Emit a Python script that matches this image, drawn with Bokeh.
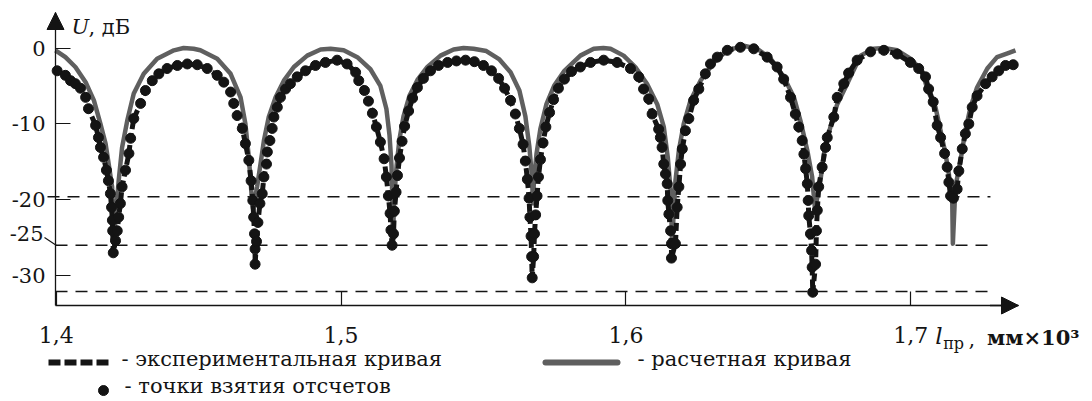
from bokeh.plotting import figure
from bokeh.models import Range1d, FixedTicker, Label, Arrow, NormalHead, LinearAxis
from bokeh.embed import file_html
from bokeh.resources import INLINE
from bokeh.core.properties import value

# ---- data: (l_pr [mm x 10^3], U [dB]) ----
calc_points = [
    (1.3997, -0.3), (1.4032, -1.2), (1.4067, -2.5), (1.4103, -4.5), (1.4132, -6.9), (1.4155, -10.0),
    (1.4173, -12.6), (1.4184, -15.3), (1.4196, -18.3), (1.4203, -25.0),
    (1.4219, -17.5), (1.4231, -13.1), (1.4249, -9.6), (1.4272, -6.0), (1.4307, -3.4), (1.4354, -1.4),
    (1.4413, -0.3), (1.4447, 0.0), (1.4482, -0.1), (1.4506, -0.3), (1.4565, -1.4), (1.4612, -3.4),
    (1.4647, -6.5), (1.4664, -10.0), (1.4676, -14.4), (1.4688, -20.5), (1.4691, -21.2),
    (1.4705, -18.3), (1.4717, -15.3), (1.4729, -12.2), (1.4746, -9.1), (1.4770, -6.5), (1.4799, -4.3),
    (1.4834, -2.5), (1.4881, -1.0), (1.4928, -0.2), (1.4963, -0.1), (1.5009, -0.3), (1.5057, -1.2),
    (1.5103, -2.8), (1.5138, -5.0), (1.5159, -8.0), (1.5170, -11.5), (1.5177, -15.5), (1.5180, -20.0),
    (1.5182, -25.8),
    (1.5186, -20.0), (1.5195, -15.5), (1.5205, -12.0), (1.5219, -9.0), (1.5240, -6.3), (1.5268, -4.2),
    (1.5303, -2.5), (1.5349, -1.0), (1.5395, -0.2), (1.5430, 0.0), (1.5465, -0.1), (1.5510, -0.4),
    (1.5556, -1.5), (1.5595, -3.2), (1.5626, -5.6), (1.5647, -9.0), (1.5661, -13.0), (1.5670, -17.0),
    (1.5674, -20.5),
    (1.5677, -17.5), (1.5686, -14.0), (1.5700, -10.6), (1.5721, -7.4), (1.5749, -4.9), (1.5784, -3.0),
    (1.5840, -1.0), (1.5887, -0.1), (1.5921, 0.0), (1.5946, -0.1), (1.5992, -1.0), (1.6033, -2.5),
    (1.6074, -4.7), (1.6110, -7.4), (1.6133, -10.4), (1.6147, -14.4), (1.6157, -18.8), (1.6161, -24.1),
    (1.6162, -25.8),
    (1.6174, -17.5), (1.6186, -13.5), (1.6203, -10.0), (1.6227, -6.9), (1.6262, -4.3), (1.6309, -1.9),
    (1.6356, -0.3), (1.6414, 0.3), (1.6461, -0.1), (1.6508, -1.4), (1.6554, -3.8), (1.6590, -6.5),
    (1.6613, -9.6), (1.6637, -13.5), (1.6654, -17.0), (1.6664, -21.3),
    (1.6683, -17.5), (1.6695, -14.0), (1.6718, -10.4), (1.6742, -7.4), (1.6777, -4.7), (1.6824, -1.0),
    (1.6870, -0.1), (1.6906, 0.0), (1.6953, -0.3), (1.6999, -1.4), (1.7040, -3.0), (1.7058, -5.4),
    (1.7087, -7.8), (1.7105, -10.9), (1.7122, -13.9), (1.7134, -16.6), (1.7146, -20.5), (1.7148, -25.8),
    (1.7157, -18.3), (1.7175, -14.8), (1.7192, -10.9), (1.7210, -7.8), (1.7233, -5.2), (1.7269, -2.7),
    (1.7303, -1.2), (1.7340, -0.7), (1.7368, -0.3),
]

exp_points = [
    (1.4003, -3.0), (1.4032, -3.6), (1.4050, -4.3), (1.4067, -4.7), (1.4085, -5.3), (1.4103, -6.5),
    (1.4113, -8.0), (1.4138, -10.2), (1.4148, -11.8), (1.4155, -13.1), (1.4166, -14.4), (1.4176, -16.1),
    (1.4183, -17.5), (1.4190, -19.2), (1.4194, -21.0), (1.4197, -22.7), (1.4198, -24.1), (1.4200, -27.0),
    (1.4208, -25.4), (1.4214, -24.1), (1.4219, -22.3), (1.4225, -20.5), (1.4231, -18.3), (1.4243, -16.1),
    (1.4255, -13.9), (1.4261, -11.9), (1.4272, -9.3), (1.4296, -7.3), (1.4313, -5.6), (1.4337, -4.3),
    (1.4360, -3.4), (1.4389, -2.7), (1.4425, -2.3), (1.4460, -2.1), (1.4495, -2.2), (1.4530, -2.7),
    (1.4565, -3.6), (1.4588, -4.5), (1.4612, -5.8), (1.4623, -7.3), (1.4635, -8.9), (1.4653, -10.6),
    (1.4664, -12.6), (1.4676, -14.8), (1.4684, -17.5), (1.4690, -20.1), (1.4693, -22.3), (1.4696, -24.5),
    (1.4698, -26.5), (1.4698, -28.5),
    (1.4703, -25.5), (1.4708, -23.0), (1.4715, -20.5), (1.4723, -19.2), (1.4729, -17.0), (1.4738, -15.3),
    (1.4741, -13.7), (1.4750, -12.2), (1.4758, -10.6), (1.4764, -9.1), (1.4776, -7.8), (1.4787, -6.5),
    (1.4805, -5.4), (1.4822, -4.7), (1.4846, -3.8), (1.4875, -3.0), (1.4910, -2.3), (1.4945, -1.9),
    (1.4986, -1.6), (1.5021, -2.1), (1.5051, -3.2), (1.5062, -4.3), (1.5082, -5.6), (1.5096, -7.0),
    (1.5110, -8.6), (1.5124, -10.4), (1.5138, -12.4), (1.5151, -14.6), (1.5159, -17.0), (1.5166, -19.5),
    (1.5172, -21.8), (1.5175, -24.0), (1.5179, -26.0),
    (1.5184, -24.5), (1.5187, -21.5), (1.5193, -19.0), (1.5198, -16.8), (1.5205, -14.5), (1.5214, -12.3),
    (1.5223, -10.3), (1.5237, -8.3), (1.5251, -6.6), (1.5268, -5.2), (1.5289, -4.0), (1.5314, -3.0),
    (1.5342, -2.3), (1.5374, -1.9), (1.5405, -1.7), (1.5437, -1.6), (1.5468, -1.8), (1.5500, -2.3),
    (1.5528, -3.0), (1.5553, -4.0), (1.5574, -5.3), (1.5595, -6.9), (1.5612, -8.7), (1.5626, -10.6),
    (1.5639, -12.7), (1.5647, -14.9), (1.5654, -17.3), (1.5660, -19.8), (1.5663, -22.3), (1.5667, -24.8),
    (1.5669, -27.5), (1.5671, -30.3),
    (1.5676, -27.5), (1.5679, -24.5), (1.5683, -22.0), (1.5688, -19.5), (1.5693, -17.0), (1.5700, -14.7),
    (1.5709, -12.5), (1.5719, -10.4), (1.5732, -8.5), (1.5746, -6.8), (1.5763, -5.3), (1.5784, -4.1),
    (1.5809, -3.1), (1.5840, -2.5), (1.5876, -1.9), (1.5922, -1.6), (1.5969, -1.9), (1.6016, -2.7),
    (1.6045, -3.8), (1.6062, -5.4), (1.6080, -6.7), (1.6092, -8.7), (1.6115, -10.7), (1.6121, -11.8),
    (1.6127, -13.1), (1.6133, -15.3), (1.6139, -16.6), (1.6145, -17.9), (1.6147, -20.1), (1.6151, -21.9),
    (1.6157, -24.1), (1.6160, -25.8), (1.6160, -27.7),
    (1.6174, -25.8), (1.6180, -21.0), (1.6186, -18.3), (1.6192, -15.3), (1.6198, -13.3), (1.6209, -10.9),
    (1.6221, -9.3), (1.6238, -6.9), (1.6256, -5.4), (1.6279, -3.4), (1.6297, -2.1), (1.6321, -1.2),
    (1.6356, -0.3), (1.6402, 0.1), (1.6449, -0.1), (1.6496, -1.2), (1.6531, -2.5), (1.6554, -4.1),
    (1.6578, -6.5), (1.6595, -8.7), (1.6607, -10.4), (1.6619, -12.2), (1.6625, -14.0), (1.6631, -15.9),
    (1.6637, -17.9), (1.6640, -20.1), (1.6642, -22.1), (1.6648, -24.5), (1.6652, -26.7), (1.6654, -28.9),
    (1.6656, -32.2),
    (1.6666, -28.5), (1.6669, -24.1), (1.6672, -21.4), (1.6677, -18.3), (1.6689, -15.7), (1.6701, -13.1),
    (1.6707, -11.8), (1.6730, -9.1), (1.6742, -6.5), (1.6765, -4.7), (1.6782, -3.3), (1.6812, -1.6),
    (1.6859, -0.5), (1.6906, -0.3), (1.6953, -0.8), (1.6999, -1.9), (1.7028, -2.7), (1.7052, -3.8),
    (1.7063, -5.4), (1.7079, -7.1), (1.7093, -10.2), (1.7105, -11.8), (1.7119, -13.9), (1.7128, -15.7),
    (1.7134, -17.7), (1.7140, -19.5), (1.7150, -19.8), (1.7163, -18.6), (1.7169, -16.2), (1.7181, -13.3),
    (1.7192, -11.3), (1.7204, -10.0), (1.7216, -7.8), (1.7233, -6.3), (1.7263, -4.7), (1.7286, -3.8),
    (1.7309, -3.0), (1.7333, -2.3), (1.7360, -2.2),
]

x_ticks = [1.4, 1.5, 1.6, 1.7]
x_tick_labels = ["1,4", "1,5", "1,6", "1,7"]
y_ticks = [0, -10, -20, -30]
y_tick_labels = ["0", "-10", "-20", "-30"]
levels = [-19.6, -26.0, -32.1]          # dashed reference levels, dB
level_label_value = -25

legend_texts = ["- экспериментальная кривая", "- расчетная кривая", "- точки взятия отсчетов"]

calc_x = [p[0] for p in calc_points]
calc_u = [p[1] for p in calc_points]
exp_x = [p[0] for p in exp_points]
exp_u = [p[1] for p in exp_points]

# ---- layout (frame = whole canvas, axes placed with fixed_location) ----
XL, XR = 1.380407, 1.763132      # canvas left / right
YB, YT = -46.474, 6.2685         # canvas bottom / top
AX_X = 1.39972                   # y-axis position
AX_Y = -33.948                   # x-axis position
X_END = 1.73785                  # x-axis arrow tip
Y_END = 4.685                    # y-axis arrow tip

SERIF = "DejaVu Serif"
INK = "#141414"
CALC = "#5f5f5f"

p = figure(width=1090, height=400, x_range=Range1d(XL, XR), y_range=Range1d(YB, YT),
           x_axis_location=None, y_axis_location=None,
           toolbar_location=None, output_backend="svg", title=None, min_border=0)
p.grid.visible = False
p.outline_line_color = None

xaxis = LinearAxis(fixed_location=AX_Y, bounds=(AX_X, X_END), ticker=FixedTicker(ticks=x_ticks),
                   major_label_overrides=dict(zip(x_ticks, x_tick_labels)))
yaxis = LinearAxis(fixed_location=AX_X, bounds=(AX_Y, Y_END), ticker=FixedTicker(ticks=y_ticks),
                   major_label_overrides=dict(zip(y_ticks, y_tick_labels)))
for ax in (xaxis, yaxis):
    ax.axis_line_color = INK
    ax.axis_line_width = 1.3
    ax.major_tick_line_color = INK
    ax.major_tick_line_width = 1.2
    ax.minor_tick_line_color = None
    ax.major_tick_out = 0
    ax.major_label_text_color = INK
    ax.major_label_text_font = SERIF
xaxis.major_tick_in = 14
xaxis.major_label_standoff = 21
xaxis.major_label_text_font_size = "22px"
yaxis.major_tick_in = 15
yaxis.major_label_standoff = 10
yaxis.major_label_text_font_size = "21px"
p.add_layout(xaxis, "below")
p.add_layout(yaxis, "left")

# dashed reference levels
p.segment(x0=[1.39691, AX_X, AX_X], x1=[1.728] * len(levels), y0=levels, y1=levels,
          line_color=INK, line_width=1.5, line_dash="12 8")

# curves
p.line(calc_x, calc_u, line_color=CALC, line_width=4.5, line_join="round")
p.line(exp_x, exp_u, line_color=INK, line_width=5, line_dash="8 4")
p.scatter(exp_x, exp_u, size=10, color=INK)

# axis arrows
p.add_layout(Arrow(end=NormalHead(size=17, fill_color=INK, line_color=INK),
                   x_start=X_END - 0.01, y_start=AX_Y, x_end=X_END, y_end=AX_Y, line_color=INK, line_width=1.3))
p.add_layout(Arrow(end=NormalHead(size=17, fill_color=INK, line_color=INK),
                   x_start=AX_X, y_start=Y_END - 2, x_end=AX_X, y_end=Y_END, line_color=INK, line_width=1.3))

# axis titles
p.add_layout(Label(x=1.40534, y=2.84, text="U", text_font=SERIF, text_font_style="italic",
                   text_font_size="21px", text_color=INK, text_baseline="middle"))
p.add_layout(Label(x=1.41131, y=2.84, text=", дБ", text_font=SERIF,
                   text_font_size="21px", text_color=INK, text_baseline="middle"))
p.add_layout(Label(x=1.7086, y=-37.97, text="l", text_font=SERIF, text_font_style="italic",
                   text_font_size="23px", text_color=INK, text_baseline="middle"))
p.add_layout(Label(x=1.7114, y=-38.98, text="пр", text_font=SERIF,
                   text_font_size="16px", text_color=INK, text_baseline="middle"))
p.add_layout(Label(x=1.7203, y=-38.30, text=",", text_font=SERIF,
                   text_font_size="21px", text_color=INK, text_baseline="middle"))
p.add_layout(Label(x=1.7268, y=-38.17, text="мм×10³", text_font=SERIF, text_font_style="bold",
                   text_font_size="21px", text_color=INK, text_baseline="middle"))

# extra "-25" level label with leader
p.add_layout(Label(x=1.395506, y=-24.45, text=str(level_label_value), text_font=SERIF,
                   text_font_size="21px", text_color=INK, text_align="right", text_baseline="middle"))
p.segment(x0=[1.395857], y0=[-24.98], x1=[1.400070], y1=[-26.04], line_color=INK, line_width=1.2)

# legend
p.line([1.39726, 1.41910], [-41.46, -41.46], line_color=INK, line_width=6, line_dash="12 4")
p.line([1.57177, 1.59705], [-41.46, -41.46], line_color=CALC, line_width=6, line_cap="round")
p.scatter([1.41657], [-45.16], size=10, color=INK)
p.text(x=[1.42289, 1.60408, 1.42395], y=[-40.94, -40.94, -44.60], text=legend_texts,
       text_font=value(SERIF), text_font_size="21px", text_color=INK, text_baseline="middle")

open("out.html", "w").write(file_html(p, INLINE))
